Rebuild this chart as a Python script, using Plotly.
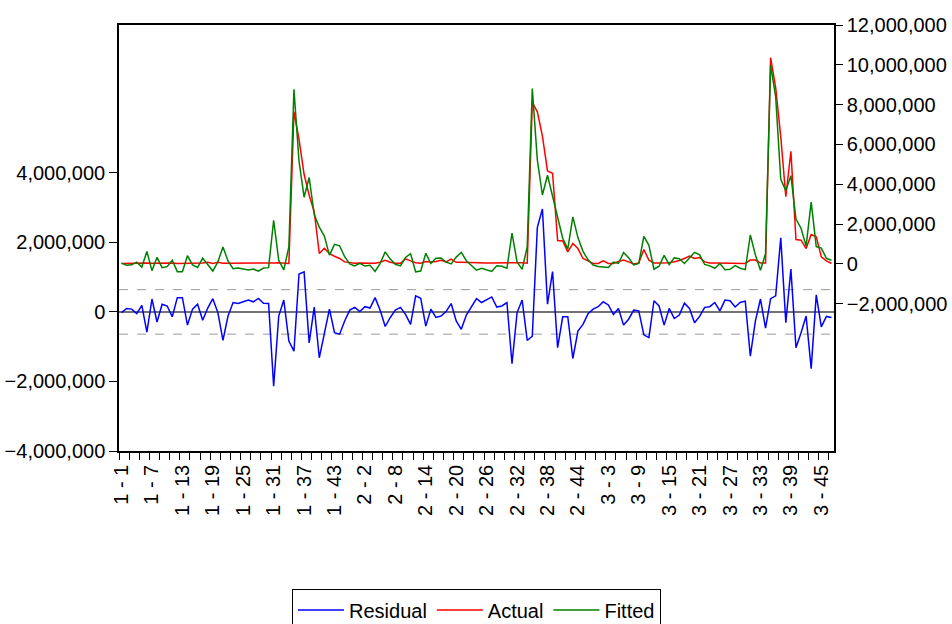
import plotly.graph_objects as go

UNIT = 1_000_000

# category labels: 3 groups x 47 periods
groups = [1, 2, 3]
periods_per_group = 47
categories = [f"{g} - {k}" for g in groups for k in range(1, periods_per_group + 1)]

# values in millions
residual_m = [
    -0.02, 0.10, 0.08, -0.05, 0.19, -0.58, 0.37, -0.29, 0.22, 0.17,
    -0.14, 0.41, 0.41, -0.38, 0.08, 0.22, -0.24, 0.11, 0.38, -0.02,
    -0.82, -0.12, 0.27, 0.24, 0.29, 0.34, 0.29, 0.39, 0.25, 0.24,
    -2.14, -0.12, 0.34, -0.84, -1.13, 1.09, 1.15, -0.89, 0.14, -1.32,
    -0.62, 0.08, -0.60, -0.64, -0.26, 0.05, 0.13, 0.01, 0.15, 0.11,
    0.41, 0.05, -0.42, -0.16, 0.05, 0.13, -0.07, -0.36, 0.46, 0.39,
    -0.41, 0.08, -0.16, -0.12, 0.01, 0.24, -0.26, -0.50, -0.09, 0.13,
    0.38, 0.27, 0.34, 0.43, 0.14, 0.17, 0.27, -1.49, -0.02, 0.34,
    -0.82, -0.70, 2.43, 2.96, 0.22, 1.16, -1.03, -0.14, -0.14, -1.34,
    -0.55, -0.36, -0.05, 0.08, 0.15, 0.29, 0.20, -0.07, 0.10, -0.38,
    -0.21, 0.05, 0.03, -0.66, -0.74, 0.32, 0.17, -0.38, 0.10, -0.19,
    -0.09, 0.25, 0.10, -0.31, -0.13, 0.13, 0.15, 0.27, 0.03, 0.34,
    0.32, 0.14, 0.27, 0.31, -1.27, -0.26, 0.37, -0.47, 0.38, 0.46,
    2.13, -0.31, 1.23, -1.03, -0.60, -0.12, -1.63, 0.49, -0.43, -0.13,
    -0.16,
]

actual_m = [
    0.02, 0.03, 0.03, 0.04, 0.03, 0.04, 0.03, 0.04, 0.03, 0.03,
    0.04, 0.02, 0.02, 0.03, 0.03, 0.04, 0.05, 0.08, 0.02, 0.08,
    0.03, 0.03, 0.03, 0.03, 0.03, 0.03, 0.03, 0.02, 0.04, 0.05,
    0.05, 0.06, 0.04, 0.02, 7.64, 6.25, 4.50, 3.45, 2.62, 0.52,
    0.78, 0.52, 0.38, 0.27, 0.10, 0.05, 0.03, 0.04, 0.04, 0.04,
    0.03, 0.08, 0.18, 0.08, 0.03, 0.03, 0.25, 0.15, 0.06, 0.03,
    0.12, 0.10, 0.12, 0.18, 0.10, 0.24, 0.08, 0.08, 0.07, 0.05,
    0.06, 0.05, 0.05, 0.05, 0.05, 0.05, 0.05, 0.05, 0.08, 0.06,
    0.03, 8.11, 7.64, 6.42, 4.67, 4.55, 1.17, 1.15, 0.60, 1.02,
    0.77, 0.27, 0.15, 0.02, 0.02, 0.15, 0.02, 0.02, 0.12, 0.19,
    0.10, 0.00, 0.05, 0.72, 0.19, 0.05, 0.05, 0.05, 0.06, 0.11,
    0.17, 0.27, 0.39, 0.27, 0.32, 0.10, 0.05, 0.05, 0.05, 0.05,
    0.05, 0.05, 0.05, 0.02, 0.19, 0.19, 0.05, 0.05, 10.36, 8.85,
    6.38, 3.37, 5.66, 1.22, 1.19, 0.77, 1.47, 1.36, 0.36, 0.15,
    0.02,
]

fitted_m = [
    0.04, -0.07, -0.05, 0.09, -0.16, 0.62, -0.34, 0.33, -0.19, -0.14,
    0.18, -0.39, -0.39, 0.41, -0.05, -0.18, 0.29, -0.03, -0.36, 0.10,
    0.85, 0.15, -0.24, -0.21, -0.26, -0.31, -0.26, -0.37, -0.21, -0.19,
    2.19, 0.18, -0.30, 0.86, 8.77, 5.16, 3.35, 4.34, 2.48, 1.84,
    1.40, 0.44, 0.98, 0.91, 0.36, 0.00, -0.10, 0.03, -0.11, -0.07,
    -0.38, 0.03, 0.60, 0.24, -0.02, -0.10, 0.32, 0.51, -0.40, -0.36,
    0.53, 0.02, 0.28, 0.30, 0.09, 0.00, 0.34, 0.58, 0.16, -0.08,
    -0.32, -0.22, -0.29, -0.38, -0.09, -0.12, -0.22, 1.54, 0.10, -0.28,
    0.85, 8.81, 5.21, 3.46, 4.45, 3.39, 2.20, 1.29, 0.74, 2.36,
    1.32, 0.63, 0.20, -0.06, -0.13, -0.14, -0.18, 0.09, 0.02, 0.57,
    0.31, -0.05, 0.02, 1.38, 0.93, -0.27, -0.12, 0.43, -0.04, 0.30,
    0.26, 0.02, 0.29, 0.58, 0.45, -0.03, -0.10, -0.22, 0.02, -0.29,
    -0.27, -0.09, -0.22, -0.29, 1.46, 0.45, -0.32, 0.52, 9.98, 8.39,
    4.25, 3.68, 4.43, 2.25, 1.79, 0.89, 3.10, 0.87, 0.79, 0.28,
    0.18,
]

residual_sd_m = 0.64  # dashed +/- band

left_ticks_m = [-4, -2, 0, 2, 4]
right_ticks_m = [-2, 0, 2, 4, 6, 8, 10, 12]
label_step = 6

residual = [v * UNIT for v in residual_m]
actual = [v * UNIT for v in actual_m]
fitted = [v * UNIT for v in fitted_m]
xpos = list(range(len(categories)))

FONT = "Liberation Sans, Arial, sans-serif"
FS = 20

fig = go.Figure()
fig.add_trace(go.Scatter(x=xpos, y=residual, name="Residual", mode="lines",
                         line=dict(color="#0000FF", width=1.5), yaxis="y"))
fig.add_trace(go.Scatter(x=xpos, y=actual, name="Actual", mode="lines",
                         line=dict(color="#FF0000", width=1.5), yaxis="y2"))
fig.add_trace(go.Scatter(x=xpos, y=fitted, name="Fitted", mode="lines",
                         line=dict(color="#008000", width=1.5), yaxis="y2"))

# zero line and +/- one standard error band for residuals
fig.add_hline(y=0, line=dict(color="#444444", width=1.5), yref="y", layer="below")
for s in (residual_sd_m, -residual_sd_m):
    fig.add_hline(y=s * UNIT, line=dict(color="#9a9a9a", width=1, dash="dash"),
                  yref="y", layer="below")

n = len(categories)
fig.update_layout(
    width=952, height=624,
    margin=dict(l=119, r=118, t=25, b=173, autoexpand=False),
    paper_bgcolor="white", plot_bgcolor="white",
    font=dict(family=FONT, size=FS, color="black"),
    showlegend=True,
    legend=dict(orientation="h", x=0.5, xanchor="center", y=-0.325, yanchor="top",
                bordercolor="black", borderwidth=1, bgcolor="white",
                font=dict(family=FONT, size=FS), itemwidth=46,
                traceorder="normal"),
    xaxis=dict(
        range=[-0.5, n - 0.5],
        automargin=False,
        tickmode="array",
        tickvals=xpos[::label_step],
        ticktext=categories[::label_step],
        tickangle=-90,
        ticks="",
        ticklabelstandoff=4,
        showgrid=False, zeroline=False,
        showline=True, linecolor="black", linewidth=1.5, mirror=True,
        tickfont=dict(family=FONT, size=FS),
        minor=dict(tickmode="linear", tick0=-0.5, dtick=2, ticks="outside",
                   ticklen=7, tickcolor="black", tickwidth=1, showgrid=False),
    ),
    yaxis=dict(
        range=[-4.0 * UNIT, 8.25 * UNIT],
        automargin=False,
        tickmode="array",
        tickvals=[v * UNIT for v in left_ticks_m],
        tickformat=",d",
        ticks="outside", ticklen=8, tickcolor="black",
        showgrid=False, zeroline=False,
        showline=True, linecolor="black", linewidth=1.5,
        tickfont=dict(family=FONT, size=FS),
    ),
    yaxis2=dict(
        range=[-9.4 * UNIT, 12.0 * UNIT],
        automargin=False,
        overlaying="y", side="right",
        tickmode="array",
        tickvals=[v * UNIT for v in right_ticks_m],
        tickformat=",d",
        ticks="outside", ticklen=7, tickcolor="black",
        showgrid=False, zeroline=False,
        showline=True, linecolor="black", linewidth=1.5,
        tickfont=dict(family=FONT, size=FS),
    ),
)

# remove the browser's default 8px page margin so the figure fills the window
fig.write_html("out.html",
               config={"displayModeBar": False},
               post_script="document.body.style.margin='0';document.body.style.overflow='hidden';")
